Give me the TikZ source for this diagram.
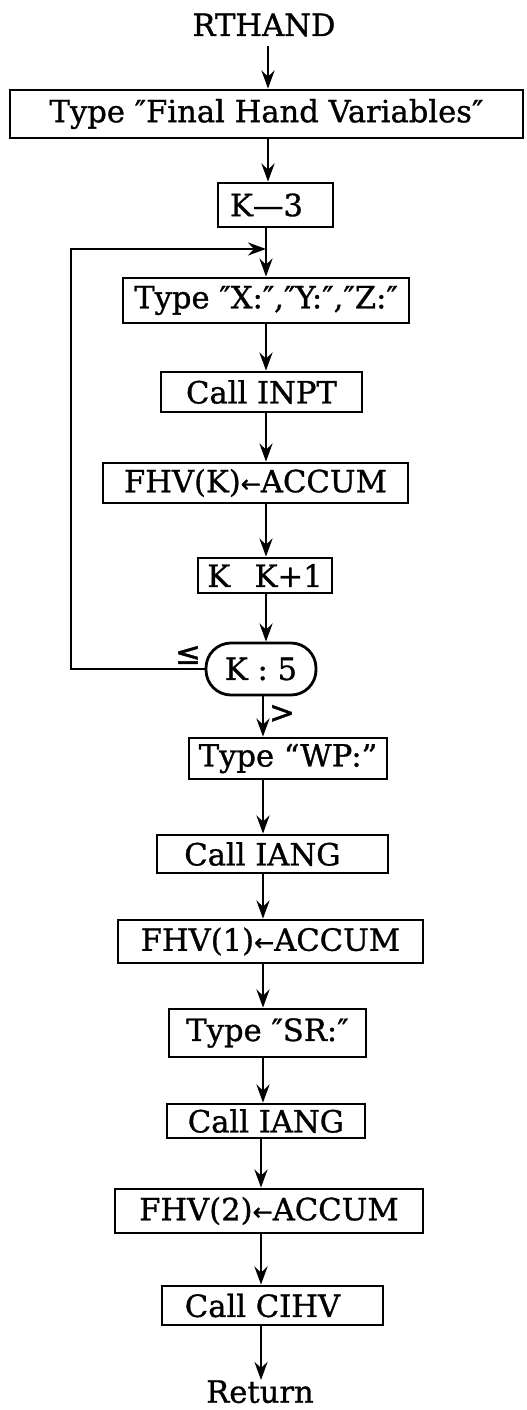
\documentclass[tikz,border=0pt]{standalone}
\usepackage{fontspec}
\setmainfont{DejaVu Serif}[FakeBold=1.0]
\newfontfamily\symfam{DejaVu Sans}[FakeBold=1.2]
\newcommand{\asgn}{{\symfam\fontsize{12}{12}\selectfont ←}}
\usetikzlibrary{arrows.meta}
\begin{document}
\begin{tikzpicture}[x=0.5pt,y=-0.5pt,
  font=\fontsize{15.3}{17}\selectfont,
  box/.style={draw, line width=1.4pt, rectangle, inner sep=0pt},
  decision/.style={draw, line width=1.4pt, rectangle, rounded corners=12.5pt, inner sep=0pt},
  arr/.style={line width=1.4pt, -{Stealth[length=9pt,width=6.5pt,inset=3pt]}},
  lbl/.style={inner sep=0pt}]
\useasboundingbox (0,0) rectangle (526,1410);

% entry and exit labels
\node[lbl] (start) at (264,25) {RTHAND};
\node[lbl, anchor=north] (ret) at (260,1380) {Return};

% process boxes
\node[box, minimum width=256.5pt, minimum height=24pt] (b1) at (266.5,114) {Type ″Final Hand Variables″};
\node[box, minimum width=57.5pt, minimum height=22pt] (b2) at (275.5,205) {\hspace*{-9pt}K—3};
\node[box, minimum width=143pt, minimum height=22.5pt] (b3) at (266,300.5) {Type ″X:″,″Y:″,″Z:″};
\node[box, minimum width=100.5pt, minimum height=20pt] (b4) at (261.5,392) {Call INPT};
\node[box, minimum width=152.5pt, minimum height=20pt] (b5) at (255.5,483) {FHV(K)\asgn ACCUM};
\node[box, minimum width=67pt, minimum height=17.5pt] (b6) at (265,575.5) {K\hspace{0.8em}K+1};
\node[decision, minimum width=55pt, minimum height=26pt] (dec) at (261,669) {K : 5};
\node[box, minimum width=99pt, minimum height=20.5pt] (b7) at (288,758.5) {Type “WP:”};
\node[box, minimum width=115.5pt, minimum height=19pt] (b8) at (272.5,854) {\hspace*{-10pt}Call IANG};
\node[box, minimum width=152.5pt, minimum height=21.5pt] (b9) at (270.5,941.5) {FHV(1)\asgn ACCUM};
\node[box, minimum width=98.5pt, minimum height=24pt] (b10) at (267.5,1033) {Type ″SR:″};
\node[box, minimum width=99pt, minimum height=17pt] (b11) at (266,1121) {Call IANG};
\node[box, minimum width=154pt, minimum height=22pt] (b12) at (269,1211) {FHV(2)\asgn ACCUM};
\node[box, minimum width=110.5pt, minimum height=19.5pt] (b13) at (272.5,1305.5) {\hspace*{-10pt}Call CIHV};

% branch labels
\node[lbl] (le) at (188,655) {\symfam ≤};
\node[lbl] (gt) at (282,714) {\symfam >};

% trunk positions
\coordinate (t1) at (268,0);
\coordinate (t2) at (266,0);
\coordinate (t3) at (263,0);
\coordinate (t4) at (261,0);
\coordinate (j) at (266,249);
\coordinate (lc) at (71,0);

% main flow
\draw[arr] (start.south -| t1) ++(0,9) -- (b1.north -| t1);
\draw[arr] (b1.south -| t1) -- (b2.north -| t1);
\draw[arr] (b2.south -| t2) -- (b3.north -| t2);
\draw[arr] (b3.south -| t2) -- (b4.north -| t2);
\draw[arr] (b4.south -| t2) -- (b5.north -| t2);
\draw[arr] (b5.south -| t2) -- (b6.north -| t2);
\draw[arr] (b6.south -| t2) -- (dec.north -| t2);
\draw[arr] (dec.south -| t3) -- (b7.north -| t3);
\draw[arr] (b7.south -| t3) -- (b8.north -| t3);
\draw[arr] (b8.south -| t3) -- (b9.north -| t3);
\draw[arr] (b9.south -| t3) -- (b10.north -| t3);
\draw[arr] (b10.south -| t3) -- (b11.north -| t3);
\draw[arr] (b11.south -| t4) -- (b12.north -| t4);
\draw[arr] (b12.south -| t4) -- (b13.north -| t4);
\draw[arr] (b13.south -| t4) -- (ret.north -| t4);

% loop back
\draw[arr] (dec.west) -- (lc |- dec.west) -- (lc |- j) -- (j);
\end{tikzpicture}
\end{document}
